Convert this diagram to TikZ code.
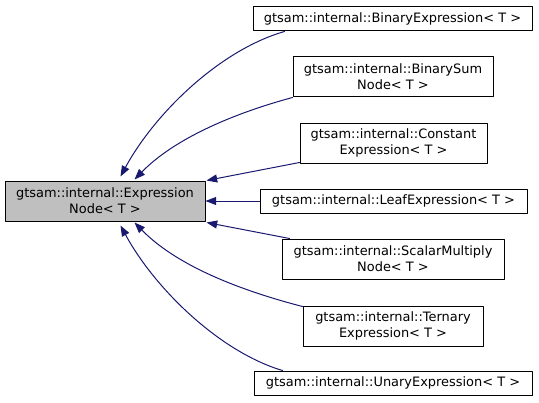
\documentclass[tikz,border=0pt]{standalone}
\usepackage{fontspec}
\setmainfont{DejaVu Sans}
\usepackage{tikz}
\usetikzlibrary{arrows.meta,calc}
\definecolor{edgeblue}{HTML}{191970}
\definecolor{basegray}{HTML}{BFBFBF}
\tikzset{cls/.style={draw=black,line width=0.75pt,align=center,inner sep=0pt,
    font=\fontsize{9.7}{12}\selectfont},
  oneline/.style={cls,minimum height=18pt},
  twoline/.style={cls,minimum height=30pt},
  inh/.style={draw=edgeblue,line width=0.75pt,
    -{Triangle[length=8pt,width=6pt]}}}

\begin{document}
\begin{tikzpicture}[line cap=round,line join=round,x=0.75pt,y=-0.75pt]
                \useasboundingbox (0,0) rectangle (539,403);
                % base class
                \node[twoline,fill=basegray,minimum width=150pt] (exprnode) at (105,201) {gtsam::internal::Expression\\Node< T >};
                % derived classes
                \node[oneline,minimum width=209.25pt] (binexpr) at (392.5,19) {gtsam::internal::BinaryExpression< T >};
                \node[twoline,minimum width=150pt] (binsum) at (393,77) {gtsam::internal::BinarySum\\Node< T >};
                \node[twoline,minimum width=140.25pt] (constexpr) at (393.5,143) {gtsam::internal::Constant\\Expression< T >};
                \node[oneline,minimum width=200.25pt] (leafexpr) at (393.5,201) {gtsam::internal::LeafExpression< T >};
                \node[twoline,minimum width=166.5pt] (scalarmul) at (393,259) {gtsam::internal::ScalarMultiply\\Node< T >};
                \node[twoline,minimum width=135pt] (ternexpr) at (393,326) {gtsam::internal::Ternary\\Expression< T >};
                \node[oneline,minimum width=208.5pt] (unaryexpr) at (393,383) {gtsam::internal::UnaryExpression< T >};
                % inheritance edges
                \draw[inh] ($(binexpr.south west)+(32,0)$) .. controls (220,50) and (155,113) .. ($(exprnode.north west)+(116,-4)$);
                \draw[inh] ($(binsum.south west)+(0,0)$) .. controls (235,113) and (175,138) .. ($(exprnode.north west)+(130,-1)$);
                \draw[inh] ($(constexpr.south west)+(0,-1)$) -- ($(exprnode.north east)+(1,0)$);
                \draw[inh] (leafexpr.west) -- (exprnode.east);
                \draw[inh] ($(scalarmul.north west)+(8,0)$) -- ($(exprnode.south east)+(1,1)$);
                \draw[inh] ($(ternexpr.north west)+(0,1)$) .. controls (235,289) and (175,264) .. ($(exprnode.south west)+(130,1)$);
                \draw[inh] ($(unaryexpr.north west)+(29,0)$) .. controls (220,352) and (155,289) .. ($(exprnode.south west)+(116,4)$);
            \end{tikzpicture}
\end{document}
